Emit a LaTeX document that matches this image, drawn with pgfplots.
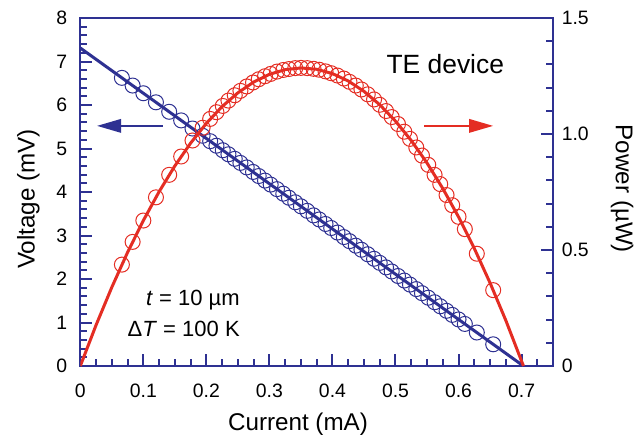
\documentclass[border=0pt]{standalone}
\usepackage{fontspec}
\setmainfont{Liberation Sans}
\usepackage{pgfplots}
\usepackage{pgfplotstable}
\pgfplotsset{compat=1.18}
\usetikzlibrary{arrows.meta}

\definecolor{axblue}{RGB}{46,49,146}
\definecolor{fitred}{RGB}{228,45,35}

% measured points: current (mA), voltage (mV), power (uW)
\pgfplotstableread{
I V P
0.066 6.624 0.437
0.083 6.447 0.535
0.100 6.270 0.627
0.120 6.062 0.727
0.141 5.844 0.824
0.160 5.646 0.903
0.178 5.459 0.972
0.194 5.293 1.027
0.206 5.168 1.065
0.216 5.064 1.094
0.226 4.960 1.121
0.235 4.867 1.144
0.245 4.763 1.167
0.254 4.669 1.186
0.264 4.565 1.205
0.274 4.461 1.222
0.283 4.367 1.236
0.293 4.263 1.249
0.302 4.170 1.259
0.312 4.066 1.269
0.322 3.962 1.276
0.331 3.868 1.280
0.341 3.764 1.284
0.350 3.671 1.285
0.360 3.567 1.284
0.370 3.463 1.281
0.379 3.369 1.277
0.389 3.265 1.270
0.398 3.172 1.262
0.408 3.068 1.252
0.418 2.964 1.239
0.427 2.870 1.225
0.437 2.766 1.209
0.446 2.673 1.192
0.456 2.569 1.171
0.466 2.465 1.149
0.475 2.371 1.126
0.485 2.267 1.099
0.494 2.173 1.073
0.504 2.069 1.043
0.514 1.965 1.010
0.523 1.872 0.979
0.533 1.768 0.942
0.542 1.674 0.907
0.552 1.570 0.867
0.562 1.466 0.824
0.571 1.373 0.784
0.581 1.269 0.737
0.590 1.175 0.693
0.600 1.071 0.643
0.610 0.967 0.590
0.629 0.770 0.484
0.655 0.499 0.327
}\meas

% fitted power curve
\pgfplotstableread{
I P
0.000 0.0000
0.025 0.1763
0.050 0.3395
0.075 0.4898
0.100 0.6270
0.125 0.7513
0.150 0.8625
0.175 0.9608
0.200 1.0461
0.225 1.1184
0.250 1.1776
0.275 1.2239
0.300 1.2572
0.325 1.2775
0.350 1.2847
0.375 1.2790
0.400 1.2603
0.425 1.2286
0.450 1.1839
0.475 1.1262
0.500 1.0555
0.525 0.9718
0.550 0.8751
0.575 0.7654
0.600 0.6427
0.625 0.5070
0.650 0.3583
0.675 0.1967
0.703 0.0000
}\powfit

\pgfplotsset{
  teframe/.style={
    scale only axis, width=236.4pt, height=174pt,
    xmin=0, xmax=0.75,
    axis line style={axblue, line width=1.15pt},
    tick align=inside,
    major tick length=6pt, minor tick length=3.3pt,
    every tick/.append style={axblue, line width=1pt},
    tick label style={font=\fontsize{9.7}{11}\selectfont, black},
    label style={font=\fontsize{12.1}{14}\selectfont},
    /pgf/number format/assume math mode=true,
  }
}

\begin{document}
\begin{tikzpicture}
\useasboundingbox (-40.15pt,-34pt) rectangle (280.85pt,183pt);
\begin{axis}[teframe,
  ymin=0, ymax=8,
  xtick={0,0.1,0.2,0.3,0.4,0.5,0.6,0.7},
  minor xtick={0.025,0.05,0.075,0.125,0.15,0.175,0.225,0.25,0.275,0.325,0.35,0.375,0.425,0.45,0.475,0.525,0.55,0.575,0.625,0.65,0.675,0.725},
  ytick={0,1,2,3,4,5,6,7,8},
  minor ytick={0.2,0.4,0.6,0.8,1.2,1.4,1.6,1.8,2.2,2.4,2.6,2.8,3.2,3.4,3.6,3.8,4.2,4.4,4.6,4.8,5.2,5.4,5.6,5.8,6.2,6.4,6.6,6.8,7.2,7.4,7.6,7.8},
  xtick pos=bottom, ytick pos=left,
  xticklabel style={yshift=-5.5pt},
  yticklabel style={xshift=-3pt},
  xlabel={Current (mA)},
  ylabel={Voltage (mV)},
  xlabel style={at={(axis description cs:0.4605,-0.168)}, anchor=center},
  ylabel style={at={(axis description cs:-0.110,0.48)}, anchor=center},
]
\addplot[axblue, only marks, mark=o, mark size=3.75pt, mark options={line width=0.5pt}]
  table[x=I, y=V] {\meas};
\addplot[axblue, line width=1.5pt] coordinates {(0,7.31) (0.703,0)};
\draw[axblue, line width=1pt, -{Triangle[length=12pt,width=6.7pt]}]
  (axis cs:0.131,5.52) -- (axis cs:0.0265,5.52);
\draw[fitred, line width=1pt, -{Triangle[length=12pt,width=6.7pt]}]
  (axis cs:0.546,5.52) -- (axis cs:0.655,5.52);
\node[font=\fontsize{13.2}{15}\selectfont] at (axis cs:0.579,6.94) {TE device};
\node[anchor=east, inner sep=0pt, font=\fontsize{11}{13}\selectfont] at (axis cs:0.2535,1.52) {\textit{t} = 10 µm};
\node[anchor=east, inner sep=0pt, font=\fontsize{11}{13}\selectfont] at (axis cs:0.2535,0.85) {Δ\textit{T} = 100 K};
\end{axis}
\begin{axis}[teframe,
  axis x line=none, axis y line*=right,
  ymin=0, ymax=1.5,
  ytick={0,0.5,1,1.5}, yticklabels={0,0.5,1.0,1.5},
  minor ytick={0.1,0.2,0.3,0.4,0.6,0.7,0.8,0.9,1.1,1.2,1.3,1.4},
  yticklabel style={xshift=0.8pt},
  ylabel={Power (µW)},
  ylabel style={at={(axis description cs:1.146,0.509)}, anchor=center, rotate=180},
]
\addplot[fitred, only marks, mark=o, mark size=3.75pt, mark options={line width=0.5pt}]
  table[x=I, y=P] {\meas};
\addplot[fitred, line width=1.5pt] table[x=I, y=P] {\powfit};
\end{axis}
\end{tikzpicture}
\end{document}
